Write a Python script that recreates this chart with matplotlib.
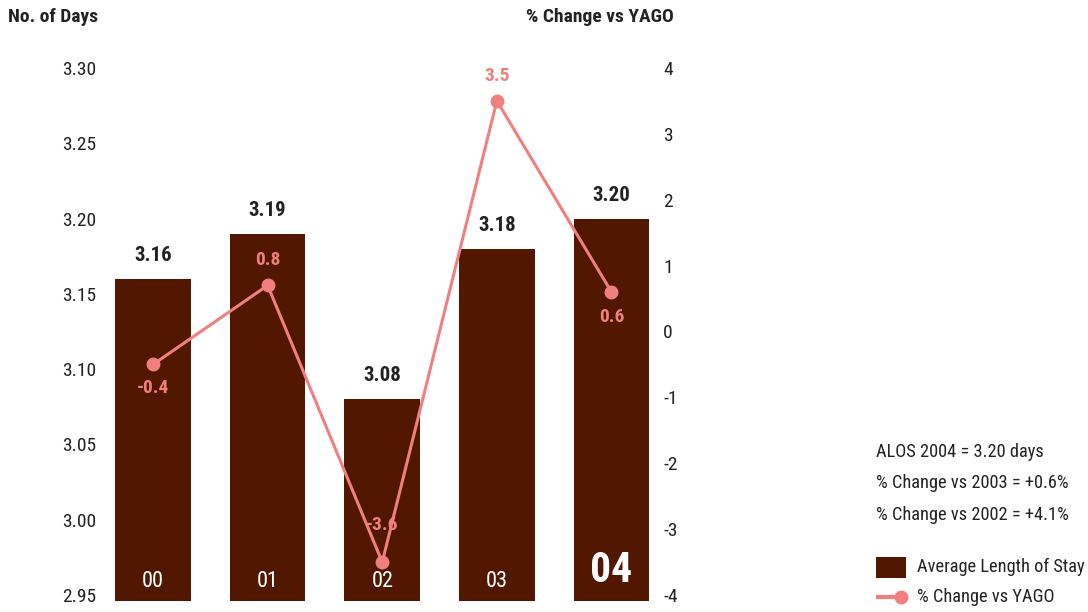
import matplotlib
matplotlib.use("Agg")
import matplotlib.pyplot as plt
from matplotlib import font_manager
from matplotlib.patches import Rectangle
from matplotlib.lines import Line2D

years = ["00", "01", "02", "03", "04"]
alos = [3.16, 3.19, 3.08, 3.18, 3.20]
pct_change = [-0.5, 0.7, -3.5, 3.5, 0.6]
pct_labels = ["-0.4", "0.8", "-3.6", "3.5", "0.6"]
left_ticks = [2.95, 3.00, 3.05, 3.10, 3.15, 3.20, 3.25, 3.30]
right_ticks = [-4, -3, -2, -1, 0, 1, 2, 3, 4]
notes = ["ALOS 2004 = 3.20 days", "% Change vs 2003 = +0.6%", "% Change vs 2002 = +4.1%"]
legend_labels = ["Average Length of Stay", "% Change vs YAGO"]

avail = {f.name for f in font_manager.fontManager.ttflist}
fam = [f for f in ["Liberation Sans Narrow", "Roboto Condensed", "Open Sans Condensed", "Roboto"] if f in avail]
plt.rcParams['font.family'] = fam + ["DejaVu Sans"]

BAR = "#521700"
LINE = "#f08080"
TXT = "#222222"

W, H = 1088, 612
fig = plt.figure(figsize=(W / 100, H / 100), dpi=100)
ax_l, ax_r, ax_t, ax_b = 100, 655, 60, 601
ax = fig.add_axes([ax_l / W, 1 - ax_b / H, (ax_r - ax_l) / W, (ax_b - ax_t) / H])
x = list(range(len(years)))
ax.bar(x, alos, width=0.66, color=BAR, bottom=0)
ax.set_ylim(2.946, 3.3053)
ax.set_xlim(-0.463, 4.38)
ax.set_yticks(left_ticks)
ax.set_yticklabels([f"{t:.2f}" for t in left_ticks])
ax.tick_params(axis='y', length=0, labelsize=14, pad=3, labelcolor=TXT)
ax.set_xticks([])
for s in ax.spines.values():
    s.set_visible(False)

for i, v in enumerate(alos):
    ax.annotate(f"{v:.2f}", (i, v), xytext=(0, 10), textcoords="offset points",
                ha="center", va="bottom", fontsize=15, fontweight="bold", color=TXT)
for i, y in enumerate(years):
    last = i == len(years) - 1
    ax.annotate(y, (i, 2.946), xytext=(0, 22 if last else 14), textcoords="offset points",
                ha="center", va="center", color="white",
                fontsize=30 if last else 16, fontweight="bold" if last else "normal")

ax2 = ax.twinx()
ax2.plot(x, pct_change, color=LINE, lw=2.2, marker="o", ms=9)
ax2.set_ylim(-4.09, 4.12)
ax2.set_yticks(right_ticks)
ax2.set_yticklabels([str(t) for t in right_ticks])
ax2.tick_params(axis='y', length=0, labelsize=14, pad=6, labelcolor=TXT)
for s in ax2.spines.values():
    s.set_visible(False)
offsets = [-17, 18, 27, 18, -18]
for i, (v, lab) in enumerate(zip(pct_change, pct_labels)):
    ax2.annotate(lab, (i, v), xytext=(0, offsets[i]), textcoords="offset points",
                 ha="center", va="center", fontsize=14, fontweight="bold", color=LINE)

fig.text(8 / W, 1 - 17 / H, "No. of Days", fontsize=14, fontweight="bold", color=TXT, ha="left", va="center")
fig.text(674 / W, 1 - 17 / H, "% Change vs YAGO", fontsize=14, fontweight="bold", color=TXT, ha="right", va="center")

for j, n in enumerate(notes):
    fig.text(876 / W, 1 - (452 + 31.5 * j) / H, n, fontsize=13.2, color=TXT, ha="left", va="center")

# legend drawn manually in figure pixel space
fig.add_artist(Rectangle((876 / W, 1 - 578 / H), 30 / W, 21 / H, facecolor=BAR,
                         edgecolor="none", transform=fig.transFigure))
fig.add_artist(Line2D([876 / W, 901 / W], [1 - 597 / H, 1 - 597 / H], color=LINE, lw=3,
                      transform=fig.transFigure, solid_capstyle="butt"))
fig.add_artist(Line2D([901 / W], [1 - 597 / H], color=LINE, marker="o", ms=9, lw=0,
                      transform=fig.transFigure))
for j, lab in enumerate(legend_labels):
    fig.text(917 / W, 1 - (567 + 30 * j) / H, lab, fontsize=13.2, color=TXT, ha="left", va="center")

fig.savefig("out.png", dpi=100)
